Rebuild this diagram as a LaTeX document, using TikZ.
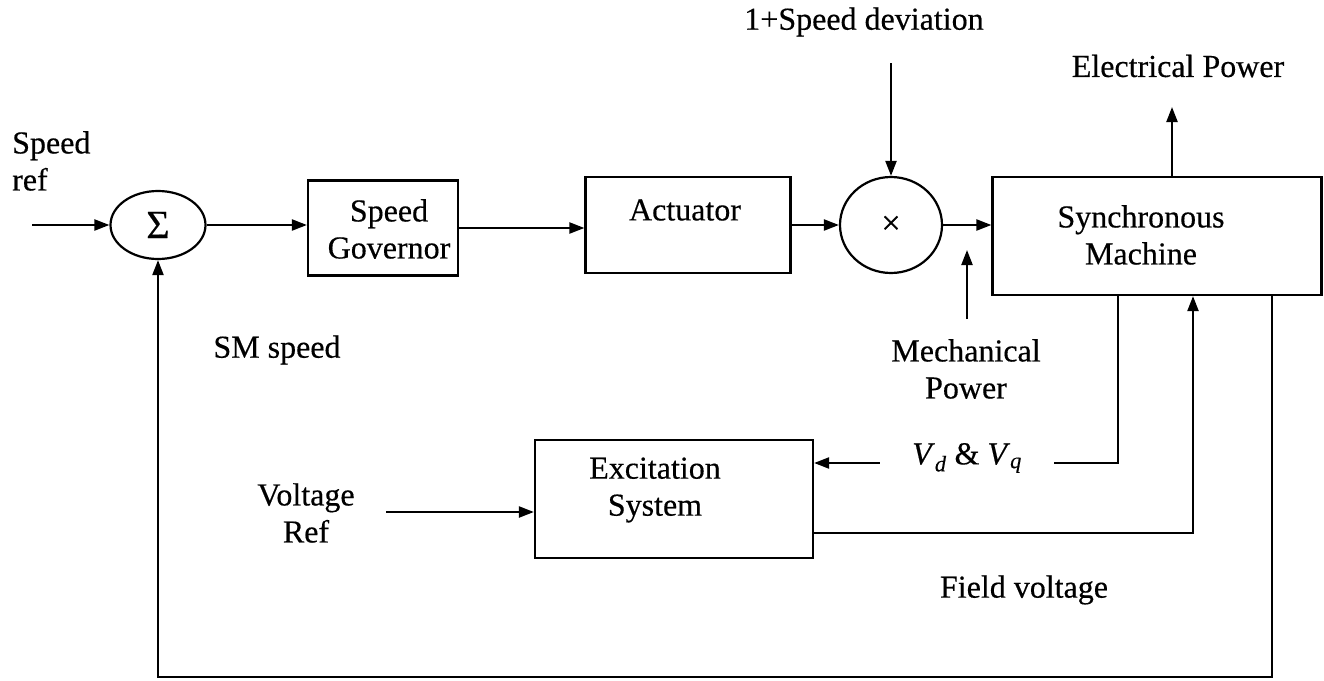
\documentclass[tikz,border=0pt]{standalone}
\usepackage{fontspec}
\setmainfont{Liberation Serif}[FakeBold=0.4]
\usetikzlibrary{arrows.meta,shapes.geometric}
\begin{document}
\begin{tikzpicture}[x=1pt,y=-1pt,
  every node/.style={font=\fontsize{32}{37}\selectfont},
  blk/.style={draw,line width=2.2pt,inner sep=0pt,rectangle},
  junc/.style={draw,line width=2.2pt,inner sep=0pt,ellipse},
  lbl/.style={inner sep=0pt,align=center},
  arr/.style={line width=2.2pt,-{Triangle[length=15pt,width=11pt]}}]
\useasboundingbox (0,0) rectangle (1324,680);
% blocks
\node[junc,minimum width=95pt,minimum height=68pt,font=\fontsize{40}{40}\selectfont] (sum) at (158,225) {Σ};
\node[blk,minimum width=150pt,minimum height=95pt] (gov) at (383,228) {};
\node[blk,minimum width=205pt,minimum height=96pt] (act) at (688,225) {};
\node[junc,minimum width=102pt,minimum height=96pt,font=\fontsize{34}{34}\selectfont] (mult) at (891,225) {×};
\node[blk,minimum width=329pt,minimum height=118pt] (sm) at (1157,236) {};
\node[blk,minimum width=278pt,minimum height=118pt] (exc) at (674,499) {};
% block texts
\node[lbl] (govtxt) at (389,229) {Speed\\Governor};
\node[lbl] (acttxt) at (685,210) {Actuator};
\node[lbl] (smtxt) at (1141,235) {Synchronous\\Machine};
\node[lbl] (exctxt) at (655,490) {Excitation\\System};
% other labels
\node[lbl,align=left,anchor=west] (sref) at (12,161) {Speed\\ref};
\node[lbl] (devtxt) at (864,22) {1+Speed deviation};
\node[lbl] (eptxt) at (1178,66) {Electrical Power};
\node[lbl] (mechtxt) at (966,369) {Mechanical\\Power};
\node[lbl] (fieldtxt) at (1024,590) {Field voltage};
\node[lbl] (smspeed) at (277,350) {SM speed};
\node[lbl] (vref) at (306,513) {Voltage\\Ref};
% free ends
\coordinate (in) at (32,225);
\coordinate (devtop) at (891,63);
\coordinate (mechbot) at (967,319);
\coordinate (mechtip) at (967,250);
\coordinate (eptop) at (1172,107);
\coordinate (vdx) at (1118,463);
\coordinate (fvx) at (1193,533);
\coordinate (fb) at (1272,677);
\coordinate (vrin) at (386,512);
% connectors
\draw[arr] (in) -- (sum.west);
\draw[arr] (sum.east) -- (sum.east -| gov.west);
\draw[arr] (gov.east) -- (gov.east -| act.west);
\draw[arr] (act.east) -- (mult.west);
\draw[arr] (mult.east) -- (mult.east -| sm.west);
\draw[arr] (devtop) -- (mult.north);
\draw[arr] (mechbot) -- (mechtip);
\draw[arr] (sm.north -| eptop) -- (eptop);
\draw[arr] (sm.south -| vdx) |- (exc.east |- vdx);
\node[lbl,fill=white,inner xsep=32pt,inner ysep=2pt] (vdtxt) at (967,458) {\textit{V}\textsubscript{\textit{d}} \& \textit{V}\textsubscript{\textit{q}}};
\draw[arr] (exc.east |- fvx) -| (sm.south -| fvx);
\draw[arr] (sm.south -| fb) |- (sum.south |- fb) -- (sum.south);
\draw[arr] (vrin) -- (vrin -| exc.west);
\end{tikzpicture}
\end{document}
